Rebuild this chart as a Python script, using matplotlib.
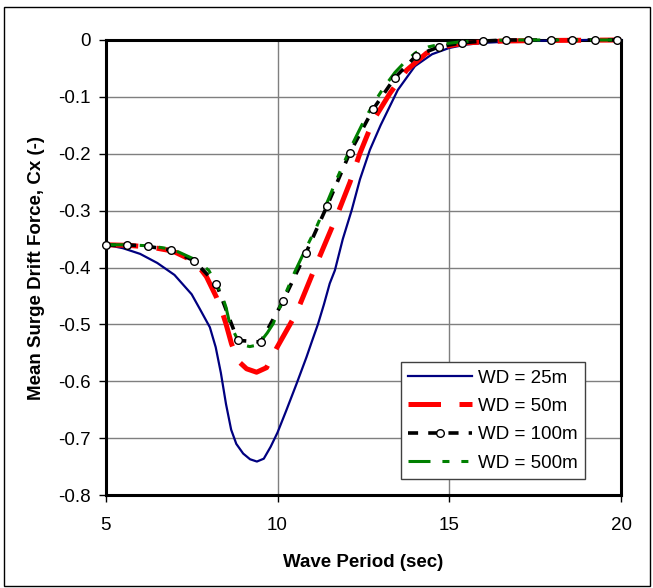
import matplotlib
matplotlib.use("Agg")
import matplotlib.pyplot as plt
from matplotlib.lines import Line2D
from matplotlib.patches import Rectangle

plt.rcParams['font.family'] = ['Liberation Sans', 'DejaVu Sans']
plt.rcParams['axes.unicode_minus'] = False

# WD = 25m
t25 = [5.0, 5.5, 6.0, 6.5, 7.0, 7.5, 7.74, 8.03, 8.2, 8.35, 8.5, 8.65, 8.8, 9.0, 9.2, 9.4,
       9.6, 9.8, 10.0, 10.25, 10.55, 10.84, 11.0, 11.18, 11.35, 11.52, 11.67, 11.9, 12.16,
       12.4, 12.69, 13.0, 13.5, 14.0, 14.5, 15.0, 15.5, 16.0, 17.0, 18.0, 19.0, 20.0]
cx25 = [-0.360, -0.366, -0.376, -0.392, -0.413, -0.447, -0.473, -0.505, -0.540, -0.585,
        -0.640, -0.685, -0.710, -0.727, -0.737, -0.741, -0.736, -0.715, -0.690, -0.652,
        -0.605, -0.558, -0.530, -0.499, -0.465, -0.428, -0.405, -0.350, -0.299,
        -0.245, -0.193, -0.150, -0.088, -0.046, -0.025, -0.014, -0.008, -0.005, -0.002,
        -0.001, 0.0, 0.0]

# WD = 50m
t50 = [5.0, 5.65, 6.3, 6.95, 7.6, 7.93, 8.22, 8.4, 8.5, 8.66, 8.85, 9.1, 9.39, 9.68,
       9.97, 10.26, 10.55, 11.14, 11.72, 12.11, 12.4, 12.79, 13.27, 13.76,
       14.34, 14.92, 15.5, 16.5, 17.5, 20.0]
cx50 = [-0.360, -0.361, -0.364, -0.371, -0.390, -0.416, -0.452, -0.480, -0.499, -0.534,
        -0.564, -0.578, -0.584, -0.576, -0.542, -0.511, -0.480, -0.393, -0.310,
        -0.250, -0.199, -0.141, -0.094, -0.053, -0.023, -0.011, -0.005, -0.002, -0.001, 0.0]

# WD = 100m (data points with markers)
t100 = [5.0, 5.63, 6.24, 6.89, 7.57, 8.22, 8.84, 9.51, 10.16, 10.83, 11.44, 12.10,
        12.78, 13.42, 14.03, 14.70, 15.36, 15.97, 16.64, 17.29, 17.95, 18.57, 19.24, 19.88]
cx100 = [-0.361, -0.360, -0.363, -0.369, -0.388, -0.429, -0.528, -0.531, -0.459, -0.374,
         -0.292, -0.199, -0.122, -0.066, -0.028, -0.012, -0.005, -0.002, 0.0, 0.0,
         0.0, 0.0, 0.0, 0.0]

# WD = 500m
t500 = [5.0, 5.65, 6.3, 6.95, 7.6, 8.0, 8.22, 8.37, 8.5, 8.61, 8.85, 9.0, 9.19, 9.35,
        9.51, 9.7, 9.87, 10.16, 10.5, 10.83, 11.14, 11.44, 11.75, 12.1, 12.45, 12.78,
        13.1, 13.42, 13.75, 14.03, 14.4, 14.7, 15.36, 16.0, 17.0, 20.0]
cx500 = [-0.360, -0.360, -0.362, -0.368, -0.386, -0.405, -0.430, -0.446, -0.470, -0.499,
         -0.528, -0.536, -0.539, -0.537, -0.530, -0.515, -0.499, -0.456, -0.408, -0.366,
         -0.328, -0.286, -0.241, -0.193, -0.150, -0.113, -0.083, -0.057, -0.036, -0.022,
         -0.012, -0.008, -0.003, -0.001, 0.0, 0.0]

yticks = [0, -0.1, -0.2, -0.3, -0.4, -0.5, -0.6, -0.7, -0.8]
ytick_labels = ["0", "-0.1", "-0.2", "-0.3", "-0.4", "-0.5", "-0.6", "-0.7", "-0.8"]
xticks = [5, 10, 15, 20]

fig = plt.figure(figsize=(6.53, 5.88), dpi=100)
ax = fig.add_axes([0.162, 0.158, 0.789, 0.774])

# outer border of the chart area
fig.patches.append(Rectangle((4 / 653, 2 / 588), 646 / 653, 579 / 588,
                             transform=fig.transFigure, fill=False,
                             edgecolor="black", linewidth=1))

ax.set_xlim(5, 20)
ax.set_ylim(-0.8, 0)
ax.set_xticks(xticks)
ax.set_yticks(yticks)
ax.set_yticklabels(ytick_labels)
ax.tick_params(direction="out", length=5, width=1, labelsize=13.5)
ax.tick_params(axis="x", pad=11)
ax.tick_params(axis="y", pad=6)

ax.grid(True, color="#7f7f7f", linewidth=1)
ax.set_axisbelow(True)
for s in ax.spines.values():
    s.set_linewidth(2.2)
    s.set_color("black")

ax.plot(t25, cx25, color="#000080", linewidth=1.6, zorder=3, clip_on=False)
ax.plot(t50, cx50, color="#ff0000", linewidth=3.6, dashes=(6.5, 3.7), zorder=4, clip_on=False)
ax.plot(t100, cx100, color="black", linewidth=2.6, dashes=(2.8, 2.8), zorder=5, clip_on=False)
ax.plot(t500, cx500, color="#008000", linewidth=2.2, dashes=(7.2, 3.9, 2.3, 3.9, 2.3, 3.9),
        zorder=6, clip_on=False)
ax.plot(t100, cx100, linestyle="none", marker="o", markersize=5.5, markerfacecolor="white",
        markeredgecolor="black", markeredgewidth=1, zorder=7, clip_on=False)

handles = [
    Line2D([], [], color="#000080", linewidth=1.6),
    Line2D([], [], color="#ff0000", linewidth=3.6, dashes=(6.5, 3.7)),
    Line2D([], [], color="black", linewidth=2.6, dashes=(2.8, 2.8), marker="o",
           markersize=5.5, markerfacecolor="white", markeredgecolor="black"),
    Line2D([], [], color="#008000", linewidth=2.2, dashes=(7.2, 3.9, 2.3, 3.9, 2.3, 3.9)),
]
labels = ["WD = 25m", "WD = 50m", "WD = 100m", "WD = 500m"]
leg = ax.legend(handles, labels, loc="lower right", bbox_to_anchor=(0.93, 0.035),
                fontsize=13.5, frameon=True, fancybox=False, framealpha=1,
                edgecolor="#404040", handlelength=3.4, handletextpad=0.3,
                labelspacing=0.6, borderpad=0.4, borderaxespad=0)
leg.get_frame().set_linewidth(1)
leg.set_zorder(10)

ax.set_xlabel("Wave Period (sec)", fontsize=13.5, fontweight="bold", labelpad=14)
ax.set_ylabel("Mean Surge Drift Force, Cx (-)", fontsize=13.5, fontweight="bold", labelpad=9)

fig.savefig("out.png", dpi=100)
